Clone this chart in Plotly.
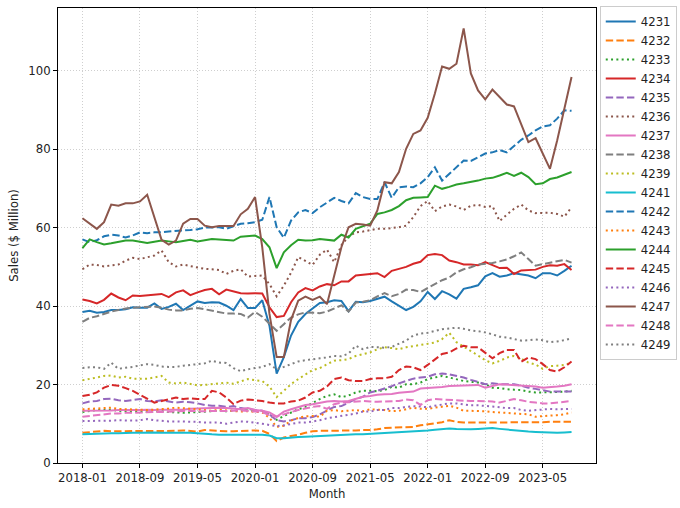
import pandas as pd
import plotly.graph_objects as go

months = [p.strftime("%Y-%m") for p in pd.period_range("2018-01", "2023-09", freq="M")]
tick_labels = ["2018-01", "2018-09", "2019-05", "2020-01", "2020-09",
               "2021-05", "2022-01", "2022-09", "2023-05"]
y_ticks = [0, 20, 40, 60, 80, 100]

s4231 = [38.5, 38.8, 38.3, 38.5, 39.0, 39.0, 39.2, 39.7, 39.6, 39.6, 40.7, 39.3,
         39.8, 40.6, 39.0, 40.0, 41.2, 40.8, 41.0, 40.9, 40.1, 39.0, 41.8, 39.5,
         39.5, 41.5, 35.0, 22.8, 27.0, 32.5, 36.0, 38.0, 39.3, 40.8, 41.0, 41.5,
         41.3, 38.7, 41.1, 41.0, 41.3, 41.8, 42.4, 41.2, 40.0, 39.0, 39.8, 41.2,
         43.6, 41.8, 43.8, 43.0, 41.9, 44.4, 44.8, 45.3, 47.6, 48.4, 47.5, 47.8,
         48.4, 48.1, 47.8, 47.1, 48.4, 48.4, 47.8, 49.0, 50.3]
s4232 = [7.7, 7.9, 8.0, 8.2, 8.1, 8.1, 8.1, 8.2, 8.1, 8.1, 8.2, 8.2,
         8.2, 8.2, 8.3, 8.2, 8.0, 8.4, 8.3, 8.1, 8.1, 8.1, 8.2, 8.3,
         8.3, 8.2, 7.4, 5.6, 6.5, 6.9, 7.2, 7.7, 8.1, 8.2, 8.2, 8.3,
         8.2, 8.3, 8.3, 8.4, 8.4, 8.6, 8.9, 9.0, 9.1, 9.2, 9.2, 9.6,
         9.9, 10.1, 10.4, 10.9, 10.5, 10.3, 10.3, 10.3, 10.4, 10.4, 10.4, 10.3,
         10.4, 10.3, 10.3, 10.3, 10.4, 10.5, 10.5, 10.6, 10.5]
s4233 = [13.0, 13.2, 13.5, 13.5, 13.6, 13.3, 13.2, 13.1, 13.0, 13.0, 13.1, 13.3,
         13.0, 12.9, 12.8, 12.9, 13.0, 13.1, 13.2, 13.3, 13.2, 13.3, 13.5, 13.4,
         13.3, 13.1, 12.3, 11.0, 12.0, 12.9, 13.7, 14.3, 15.4, 16.3, 17.1, 17.5,
         16.8, 17.2, 18.0, 18.4, 18.4, 18.3, 18.6, 19.4, 19.2, 20.1, 20.1, 20.5,
         21.4, 21.8, 22.2, 21.8, 21.4, 20.9, 20.7, 20.5, 20.1, 19.2, 19.1, 18.8,
         18.7, 18.6, 18.2, 18.0, 18.0, 18.0, 18.1, 18.2, 18.4]
s4234 = [41.7, 41.3, 40.7, 41.6, 43.2, 42.2, 41.5, 42.7, 42.6, 42.8, 42.9, 43.1,
         42.3, 43.5, 44.0, 42.8, 43.5, 44.1, 44.4, 43.0, 44.2, 43.8, 43.3, 43.2,
         43.3, 43.2, 39.7, 37.2, 37.5, 41.0, 43.5, 44.6, 44.0, 45.0, 45.6, 45.3,
         46.3, 46.3, 47.8, 48.0, 48.2, 48.4, 47.4, 49.0, 49.5, 50.0, 50.8, 51.3,
         53.0, 53.3, 53.0, 51.6, 51.2, 50.6, 50.6, 50.4, 51.2, 50.5, 49.7, 49.8,
         48.2, 49.1, 49.2, 49.3, 50.0, 50.4, 50.3, 50.7, 49.2]
s4235 = [15.2, 15.7, 15.8, 16.3, 16.4, 16.0, 15.8, 16.0, 16.3, 15.8, 15.7, 16.0,
         15.7, 15.4, 15.6, 15.5, 15.2, 14.8, 14.6, 14.6, 14.3, 14.5, 14.0, 13.7,
         13.5, 13.3, 12.4, 10.9, 10.6, 10.9, 11.4, 11.4, 11.7, 12.4, 13.3, 14.3,
         14.5, 15.4, 16.3, 16.9, 18.0, 18.4, 19.1, 19.6, 20.3, 20.9, 21.5, 21.8,
         22.0, 22.6, 22.8, 22.6, 22.2, 21.8, 21.2, 20.6, 20.1, 20.3, 20.1, 20.1,
         20.1, 19.7, 19.2, 18.9, 18.6, 18.2, 18.2, 18.2, 18.2]
s4236 = [49.4, 50.6, 50.5, 50.1, 50.4, 50.6, 51.6, 52.3, 52.0, 52.5, 52.9, 54.2,
         51.2, 50.1, 50.6, 50.2, 49.9, 49.5, 49.4, 49.2, 48.2, 49.0, 49.4, 47.5,
         47.7, 47.8, 45.6, 42.5, 45.2, 48.5, 52.5, 51.6, 50.5, 53.1, 54.4, 51.2,
         55.5, 57.8, 58.8, 59.0, 59.3, 59.7, 59.7, 59.9, 60.1, 60.5, 62.7, 65.5,
         66.8, 64.2, 65.4, 65.9, 65.4, 64.5, 65.6, 65.8, 65.3, 65.5, 61.7, 63.3,
         64.8, 65.9, 64.4, 63.7, 63.8, 63.8, 63.5, 62.8, 65.2]
s4237 = [13.3, 13.3, 13.4, 13.3, 13.4, 13.5, 13.5, 13.4, 13.5, 13.6, 13.5, 13.6,
         13.6, 13.7, 13.6, 13.8, 13.9, 14.0, 14.1, 14.1, 14.0, 13.9, 13.7, 14.0,
         13.5, 13.3, 12.9, 11.8, 13.1, 13.7, 14.3, 14.8, 15.0, 15.4, 15.7, 15.8,
         15.7, 15.8, 16.3, 16.9, 17.1, 17.4, 17.5, 17.6, 17.9, 18.1, 18.2, 19.0,
         19.1, 19.3, 19.4, 19.6, 19.7, 19.7, 19.8, 19.9, 19.2, 19.7, 20.1, 20.0,
         19.9, 19.8, 19.7, 19.5, 19.2, 19.3, 19.5, 19.7, 20.1]
s4238 = [36.0, 37.0, 37.4, 38.1, 38.6, 39.0, 39.4, 39.6, 39.7, 39.7, 39.9, 39.6,
         39.1, 38.9, 38.9, 39.3, 39.5, 39.2, 38.8, 38.5, 38.1, 38.1, 38.0, 37.1,
         38.5, 37.3, 35.4, 33.7, 35.4, 37.1, 37.9, 38.4, 38.3, 38.2, 38.6, 39.5,
         40.2, 38.6, 40.9, 41.1, 41.5, 42.5, 43.3, 42.5, 43.1, 44.2, 44.1, 43.6,
         44.6, 45.6, 46.6, 47.3, 48.6, 49.4, 49.9, 50.6, 50.8, 51.0, 51.4, 51.9,
         52.7, 53.7, 52.0, 50.3, 50.7, 51.1, 51.5, 51.8, 51.1]
s4239 = [21.1, 21.4, 21.8, 22.2, 22.3, 21.8, 22.0, 21.5, 21.5, 21.5, 21.8, 22.2,
         20.5, 20.3, 20.5, 20.1, 19.8, 19.9, 20.1, 20.3, 20.5, 20.2, 20.9, 21.4,
         21.1, 20.9, 19.5, 16.8, 18.4, 20.1, 21.4, 22.6, 23.7, 24.2, 25.2, 26.1,
         26.2, 26.5, 27.3, 27.8, 28.2, 29.0, 29.5, 29.3, 29.0, 29.5, 29.8, 30.0,
         30.3, 30.7, 31.6, 33.2, 30.8, 29.7, 28.7, 27.4, 26.2, 25.4, 26.0, 26.9,
         27.3, 26.6, 25.6, 25.1, 24.0, 24.7, 24.8, 25.0, 25.6]
s4241 = [7.3, 7.4, 7.5, 7.5, 7.6, 7.6, 7.7, 7.7, 7.7, 7.8, 7.8, 7.7,
         7.7, 7.7, 7.8, 7.7, 7.6, 7.4, 7.3, 7.2, 7.2, 7.3, 7.3, 7.3,
         7.3, 7.2, 7.0, 6.3, 6.3, 6.5, 6.6, 6.7, 6.8, 6.9, 7.0, 7.1,
         7.2, 7.2, 7.3, 7.3, 7.4, 7.5, 7.6, 7.7, 7.8, 7.9, 8.0, 8.2,
         8.3, 8.5, 8.7, 8.8, 8.7, 8.6, 8.6, 8.7, 8.8, 8.9, 8.7, 8.5,
         8.4, 8.2, 8.0, 7.9, 7.8, 7.7, 7.7, 7.8, 7.9]
s4242 = [57.0, 56.3, 56.8, 57.8, 58.2, 58.0, 57.5, 58.0, 58.8, 58.6, 58.8, 58.8,
         59.0, 59.2, 59.3, 59.4, 59.6, 60.0, 60.1, 60.1, 59.7, 60.3, 61.0, 61.1,
         61.4, 62.0, 67.8, 60.1, 57.4, 61.8, 63.9, 64.5, 63.7, 65.2, 66.5, 67.6,
         66.8, 66.2, 68.8, 67.8, 67.3, 67.3, 71.6, 67.6, 70.3, 70.5, 70.3, 71.3,
         72.9, 75.4, 72.0, 73.7, 75.4, 77.1, 77.0, 78.0, 78.9, 79.2, 79.8, 79.2,
         80.7, 82.4, 83.5, 84.8, 85.8, 86.1, 87.8, 89.9, 89.8]
s4243 = [13.7, 13.8, 14.0, 14.0, 14.1, 13.8, 13.7, 13.7, 13.6, 13.5, 13.6, 13.7,
         13.9, 14.1, 14.0, 13.9, 13.7, 13.5, 13.3, 13.6, 13.4, 13.3, 13.1, 13.2,
         13.0, 12.9, 11.5, 9.2, 9.5, 10.8, 11.5, 11.9, 12.0, 11.8, 13.3, 13.5,
         13.2, 13.4, 13.5, 13.2, 13.7, 13.6, 13.5, 13.2, 13.3, 13.7, 14.1, 13.8,
         13.8, 14.1, 14.3, 14.6, 14.1, 13.3, 13.3, 13.3, 13.2, 13.0, 12.9, 12.8,
         12.7, 12.6, 12.4, 11.8, 12.0, 12.1, 12.2, 12.4, 12.9]
s4244 = [54.8, 57.0, 56.3, 55.7, 56.0, 56.3, 56.7, 56.7, 56.4, 56.1, 56.4, 56.7,
         56.5, 56.3, 56.6, 56.9, 56.5, 56.8, 57.1, 57.0, 56.9, 56.7, 57.7, 57.8,
         58.0, 57.1, 55.0, 49.7, 53.7, 55.5, 56.9, 56.7, 56.8, 57.1, 56.9, 56.7,
         58.2, 57.5, 59.7, 60.3, 61.0, 63.5, 63.9, 64.5, 65.5, 67.0, 67.6, 67.7,
         67.8, 70.7, 69.9, 70.4, 71.0, 71.3, 71.6, 72.0, 72.5, 72.7, 73.3, 74.0,
         73.2, 74.0, 72.9, 71.1, 71.3, 72.4, 72.8, 73.6, 74.2]
s4245 = [17.1, 17.4, 18.0, 19.2, 19.9, 19.7, 19.1, 18.4, 17.4, 16.3, 15.4, 15.8,
         16.3, 16.7, 16.3, 16.5, 16.3, 16.3, 18.4, 18.0, 16.7, 15.0, 15.9, 16.2,
         16.0, 15.8, 15.4, 15.2, 15.2, 15.7, 15.9, 16.7, 18.0, 18.4, 19.5, 21.4,
         21.8, 21.1, 20.9, 20.9, 21.4, 21.6, 21.6, 22.0, 23.7, 24.6, 24.4, 23.7,
         25.0, 26.3, 27.8, 28.2, 29.2, 29.9, 29.5, 29.5, 28.0, 26.7, 28.0, 28.8,
         28.8, 25.8, 26.9, 26.5, 25.2, 23.7, 23.3, 24.4, 25.9]
s4246 = [10.7, 10.7, 10.7, 10.8, 10.8, 10.9, 10.8, 10.8, 10.9, 11.2, 10.9, 10.7,
         10.6, 10.6, 10.6, 10.6, 10.5, 10.3, 10.3, 10.3, 10.0, 10.3, 10.6, 10.5,
         10.3, 10.0, 9.7, 9.4, 9.6, 9.9, 10.3, 10.3, 10.6, 10.9, 11.4, 11.7,
         12.0, 12.4, 12.6, 13.1, 13.1, 13.5, 13.5, 14.0, 14.0, 14.3, 14.5, 14.4,
         14.2, 14.6, 14.9, 15.2, 15.2, 14.9, 14.7, 14.7, 14.6, 14.4, 14.2, 14.0,
         14.0, 13.5, 13.3, 13.5, 13.7, 13.8, 13.7, 13.7, 13.8]
s4247 = [62.4, 61.0, 59.7, 61.4, 65.9, 65.6, 66.2, 66.2, 66.7, 68.4, 62.5, 56.9,
         55.7, 56.7, 61.0, 62.2, 62.2, 60.5, 60.1, 60.4, 60.4, 60.4, 63.4, 64.8,
         67.8, 55.0, 38.0, 27.0, 27.0, 36.5, 41.4, 42.4, 41.6, 42.4, 40.5, 48.0,
         55.0, 60.1, 61.0, 60.8, 60.5, 64.4, 71.6, 71.3, 74.2, 80.1, 83.9, 84.8,
         88.0, 94.2, 101.1, 100.5, 101.8, 110.8, 99.3, 95.0, 92.7, 95.2, 93.3, 91.4,
         90.9, 86.5, 81.8, 82.8, 78.7, 75.0, 82.2, 90.3, 98.4]
s4248 = [11.8, 12.0, 12.2, 12.5, 12.6, 12.6, 12.8, 12.8, 12.9, 12.9, 13.0, 13.0,
         13.1, 13.2, 13.2, 13.3, 13.2, 13.2, 13.3, 13.2, 13.3, 13.3, 13.4, 13.2,
         13.1, 13.0, 12.2, 11.8, 12.5, 13.0, 13.5, 13.9, 14.3, 14.5, 13.8, 15.0,
         15.4, 15.5, 15.6, 15.8, 15.7, 15.6, 15.7, 15.8, 15.8, 16.2, 16.0, 14.8,
         16.0, 16.3, 16.2, 16.0, 16.0, 15.9, 15.8, 15.8, 15.7, 15.7, 15.4, 15.8,
         16.3, 16.0, 15.6, 15.4, 15.2, 15.2, 15.4, 15.7, 15.8]
s4249 = [24.2, 24.4, 24.4, 24.0, 25.6, 24.0, 24.3, 24.5, 24.9, 25.2, 25.0, 24.6,
         24.5, 24.5, 24.8, 25.0, 25.3, 25.4, 26.1, 25.6, 25.5, 24.2, 23.4, 23.9,
         24.2, 24.5, 25.2, 23.9, 24.5, 25.2, 25.9, 26.2, 26.5, 26.7, 26.9, 27.3,
         27.2, 27.9, 29.9, 29.0, 29.6, 29.5, 29.4, 29.6, 30.5, 31.2, 32.5, 33.0,
         33.2, 33.6, 34.1, 34.3, 34.5, 34.2, 33.8, 33.6, 33.3, 32.8, 32.2, 32.0,
         31.5, 31.2, 31.3, 31.5, 31.3, 30.8, 31.0, 31.3, 31.8]

series_names = ["4231", "4232", "4233", "4234", "4235", "4236", "4237", "4238", "4239",
                "4241", "4242", "4243", "4244", "4245", "4246", "4247", "4248", "4249"]
series_values = [s4231, s4232, s4233, s4234, s4235, s4236, s4237, s4238, s4239,
                 s4241, s4242, s4243, s4244, s4245, s4246, s4247, s4248, s4249]

palette = ["#1f77b4", "#ff7f0e", "#2ca02c", "#d62728", "#9467bd",
           "#8c564b", "#e377c2", "#7f7f7f", "#bcbd22", "#17becf"]
dash_cycle = ["solid", "7.4px,3.2px", "2px,3.3px"]

fig = go.Figure()
for k, (name, vals) in enumerate(zip(series_names, series_values)):
    fig.add_trace(go.Scatter(
        x=months, y=vals, name=name, mode="lines",
        line=dict(color=palette[k % 10], width=2, dash=dash_cycle[k % 3]),
    ))

font_family = "DejaVu Sans"
fig.update_layout(
    template="none",
    width=680, height=508,
    margin=dict(l=58, r=84, t=8, b=45),
    paper_bgcolor="white", plot_bgcolor="white",
    font=dict(family=font_family, size=11.7, color="#222222"),
    showlegend=True,
    legend=dict(
        xref="container", yref="container",
        x=0.882, y=0.988, xanchor="left", yanchor="top",
        bgcolor="white", bordercolor="#cccccc", borderwidth=1,
        font=dict(family=font_family, size=11.7, color="#222222"),
        itemwidth=30, tracegroupgap=0, maxheight=420,
    ),
)
fig.update_xaxes(
    type="category", range=[-3.4, 71.4],
    tickmode="array", tickvals=tick_labels, ticktext=tick_labels,
    showline=True, linecolor="black", linewidth=1, mirror=True,
    ticks="outside", ticklen=4, tickcolor="black", tickwidth=1,
    showgrid=True, gridcolor="#cfcfcf", griddash="1px,2px", gridwidth=0.8,
    zeroline=False, automargin=False,
    title=dict(text="Month", standoff=5, font=dict(size=11.7)),
)
fig.update_yaxes(
    range=[0, 116], tickmode="array", tickvals=y_ticks,
    ticktext=[str(v) for v in y_ticks],
    showline=True, linecolor="black", linewidth=1, mirror=True,
    ticks="outside", ticklen=4, tickcolor="black", tickwidth=1,
    showgrid=True, gridcolor="#cfcfcf", griddash="1px,2px", gridwidth=0.8,
    zeroline=False, automargin=False,
    title=dict(text="Sales ($ Million)", standoff=7, font=dict(size=11.7)),
)

fig.write_html(
    "out.html",
    config={"displayModeBar": False},
    post_script="document.body.style.margin='0';document.body.style.padding='0';",
)
